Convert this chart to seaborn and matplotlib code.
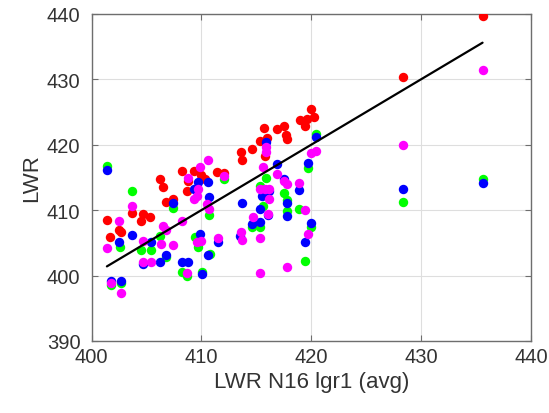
import numpy as np
import pandas as pd
import seaborn as sns
import matplotlib
matplotlib.use("Agg")
import matplotlib.pyplot as plt

# LWR N16 lgr1 (avg) vs LWR, four series
red_x = [401.4, 401.7, 402.5, 402.7, 403.7, 404.5, 404.7, 405.3, 406.2, 406.5,
         406.8, 407.4, 408.2, 408.8, 408.7, 409.3, 410.0, 410.3, 411.4, 412.1,
         413.6, 413.7, 414.6, 415.3, 415.7, 416.0, 415.8, 416.9, 417.5, 417.7,
         417.8, 419.0, 419.6, 420.3, 419.4, 420.0, 428.4, 435.6]
red_y = [408.5, 405.9, 407.0, 406.6, 409.5, 408.4, 409.4, 409.0, 414.8, 413.5,
         411.3, 411.7, 416.0, 414.5, 413.0, 416.0, 415.3, 414.8, 415.9, 415.7,
         418.9, 417.6, 419.4, 420.6, 422.5, 421.1, 418.3, 422.4, 422.8, 421.5,
         420.8, 423.8, 424.0, 424.2, 422.8, 425.5, 430.4, 439.7]

green_x = [401.4, 401.8, 402.6, 402.7, 403.7, 404.5, 405.4, 406.2, 406.8, 407.4,
           408.2, 408.7, 409.4, 409.7, 410.1, 410.7, 410.8, 412.1, 414.6, 415.3,
           415.3, 415.6, 415.9, 417.5, 417.8, 417.8, 418.9, 419.4, 419.7, 420.0,
           420.4, 428.4, 435.6]
green_y = [416.8, 398.5, 404.3, 398.9, 412.9, 403.9, 403.9, 406.0, 402.8, 410.3,
           400.5, 400.0, 405.9, 404.4, 400.6, 409.2, 403.3, 414.8, 407.4, 407.4,
           413.7, 410.7, 414.9, 412.6, 411.5, 409.9, 410.1, 402.3, 416.5, 407.4,
           421.6, 411.3, 414.7]

blue_x = [401.4, 401.8, 402.5, 402.7, 403.7, 404.7, 405.4, 406.2, 406.8, 407.4,
          408.2, 408.8, 409.3, 409.7, 409.9, 410.1, 410.6, 410.6, 410.7, 411.5,
          413.5, 413.7, 414.6, 415.3, 415.3, 415.5, 415.9, 416.1, 416.2, 416.9,
          417.5, 417.8, 417.8, 418.9, 419.4, 419.7, 420.0, 420.4, 428.4, 435.6]
blue_y = [416.1, 399.2, 405.2, 399.1, 406.2, 401.8, 405.1, 402.0, 403.2, 411.1,
          402.0, 402.0, 413.2, 414.3, 406.3, 400.2, 403.2, 414.3, 412.0, 405.2,
          406.1, 411.1, 407.9, 408.2, 410.2, 412.2, 420.4, 409.2, 412.9, 417.1,
          414.7, 411.1, 409.1, 413.1, 405.2, 417.2, 408.1, 421.2, 413.2, 414.2]

magenta_x = [401.4, 401.8, 402.5, 402.7, 403.7, 404.7, 404.7, 405.4, 406.3, 406.5,
             406.8, 407.4, 408.2, 408.7, 408.8, 409.3, 409.6, 409.7, 409.9, 410.6,
             409.6, 410.0, 410.5, 410.7, 411.5, 412.1, 413.6, 413.7, 414.7, 415.3,
             415.3, 415.6, 415.3, 415.8, 416.2, 416.2, 416.1, 415.9, 415.9, 416.9,
             417.5, 417.8, 418.9, 419.4, 419.7, 417.8, 420.0, 420.4, 428.4, 435.6]
magenta_y = [404.2, 398.8, 408.4, 397.3, 410.7, 405.3, 402.0, 402.0, 404.8, 407.5,
             407.0, 404.6, 408.3, 400.4, 414.9, 411.7, 412.2, 413.2, 416.6, 417.7,
             405.2, 405.3, 411.0, 410.2, 405.7, 415.2, 406.6, 405.5, 408.9, 405.7,
             400.4, 416.6, 413.3, 413.2, 413.2, 411.7, 409.4, 419.6, 418.9, 415.5,
             414.4, 414.0, 414.1, 410.0, 406.3, 401.3, 418.7, 419.0, 420.0, 431.4]

series = [("red", red_x, red_y, (1, 0, 0)),
          ("green", green_x, green_y, (0, 1, 0)),
          ("blue", blue_x, blue_y, (0, 0, 1)),
          ("magenta", magenta_x, magenta_y, (1, 0, 1))]

sns.set_style("ticks")
plt.rcParams['font.family'] = ['Liberation Sans', 'DejaVu Sans']

fig = plt.figure(figsize=(5.49, 4.14), dpi=100)
ax = fig.add_axes([0.1667, 0.174, 0.8003, 0.79])

for name, xs, ys, col in series:
    df = pd.DataFrame({"x": xs, "y": ys})
    sns.scatterplot(data=df, x="x", y="y", color=col, s=46, linewidth=0,
                    ax=ax, zorder=3)

# 1:1 line over the range of the data
all_x = np.concatenate([s[1] for s in series])
line = pd.DataFrame({"x": [all_x.min(), all_x.max()]})
line["y"] = line["x"]
sns.lineplot(data=line, x="x", y="y", color="black", linewidth=1.6, ax=ax, zorder=4)

ax.set_xlim(400, 440)
ax.set_ylim(390, 440)
ax.set_xticks([400, 410, 420, 430, 440])
ax.set_yticks([390, 400, 410, 420, 430, 440])
ax.grid(True, color="#dedede", linewidth=0.8)
ax.set_axisbelow(True)
for sp in ax.spines.values():
    sp.set_visible(True)
    sp.set_color("#6e6e6e")
    sp.set_linewidth(1.0)
ax.tick_params(direction="in", length=4, width=0.8, colors="#6e6e6e",
               labelcolor="#333333", labelsize=14.5, top=True, right=True)
ax.tick_params(axis="y", pad=8)
ax.tick_params(axis="x", pad=4)
ax.set_xlabel("LWR N16 lgr1 (avg)", fontsize=16, color="#333333", labelpad=4)
ax.set_ylabel("LWR", fontsize=16, color="#333333", labelpad=3)

fig.savefig("out.png", dpi=100)
